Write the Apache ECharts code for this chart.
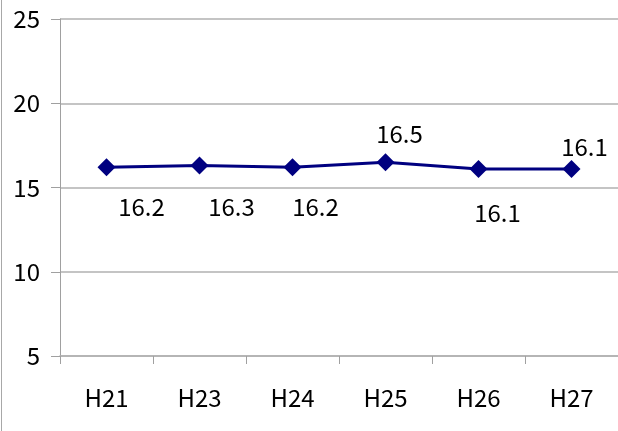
<!DOCTYPE html>
<html><head><meta charset="utf-8">
<script src="https://cdn.jsdelivr.net/npm/echarts@6/dist/echarts.min.js"></script>
<style>html,body{margin:0;padding:0;background:#fff}#c{width:618px;height:431px}</style>
</head><body><div id="c"></div>
<script>
const categories = ['H21','H23','H24','H25','H26','H27'];
const values = [16.2, 16.3, 16.2, 16.5, 16.1, 16.1];
const yTicks = {min: 5, max: 25, interval: 5};
const labelOffsets = [[35,40],[32,41],[23,40],[14,-28],[19,44],[13,-22]];

const FONT = '"Noto Sans CJK JP", "Noto Sans", sans-serif';
const FS = 24;
const chart = echarts.init(document.getElementById('c'), null, {renderer:'canvas'});
chart.setOption({
  animation: false,
  backgroundColor: '#fff',
  grid: {left: 60, right: 0, top: 19, bottom: 75},
  graphic: [{type:'line', shape:{x1:1.5,y1:0,x2:1.5,y2:431}, style:{stroke:'#a8a8a8', lineWidth:1}}],
  xAxis: {
    type: 'category', data: categories, boundaryGap: true,
    axisLine: {lineStyle: {color: '#b0b0b0', width: 1.5}},
    axisTick: {show: true, length: 8, lineStyle: {color: '#a0a0a0'}},
    axisLabel: {color: '#000', fontSize: FS, fontFamily: FONT, margin: 30}
  },
  yAxis: {
    type: 'value', min: yTicks.min, max: yTicks.max, interval: yTicks.interval,
    axisLine: {show: true, lineStyle: {color: '#a0a0a0'}},
    axisTick: {show: true, length: 9, lineStyle: {color: '#a0a0a0'}},
    splitLine: {show: true, lineStyle: {color: '#b0b0b0', width: 1.5}},
    axisLabel: {color: '#000', fontSize: FS, fontFamily: FONT, margin: 20}
  },
  series: [{
    type: 'line',
    data: values.map((v, i) => ({
      value: v,
      label: {show: true, position: 'inside', offset: labelOffsets[i]}
    })),
    symbol: 'diamond', symbolSize: 18,
    lineStyle: {color: '#000080', width: 3},
    itemStyle: {color: '#000080'},
    label: {color: '#000', fontSize: FS, fontFamily: FONT, align: 'center', verticalAlign: 'middle'}
  }]
});
</script></body></html>
